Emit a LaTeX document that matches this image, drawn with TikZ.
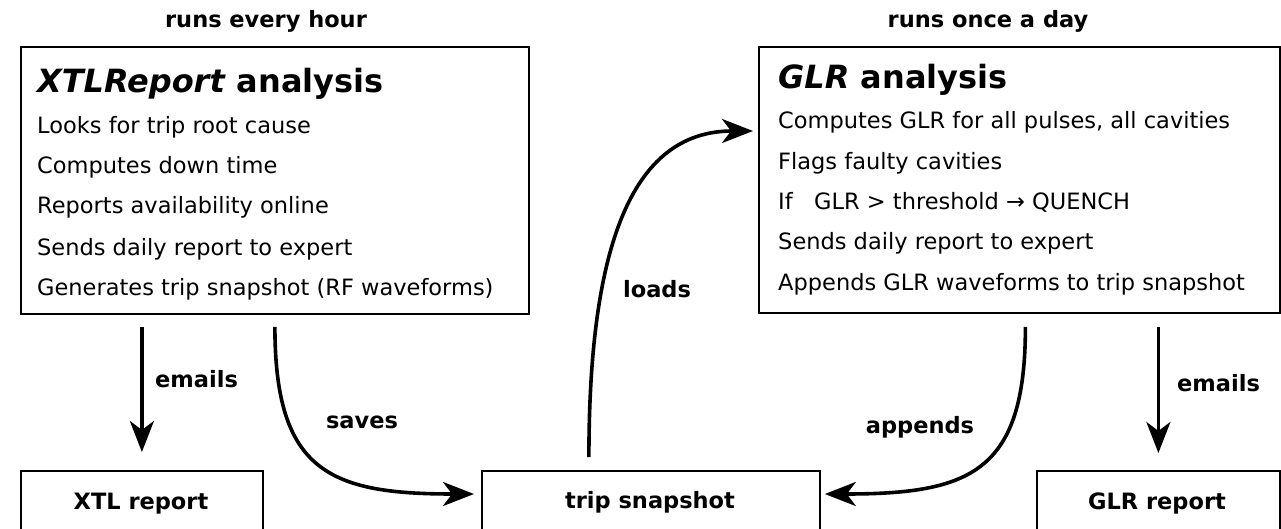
\documentclass[tikz,border=0pt]{standalone}
\usepackage{fontspec}
\setmainfont{DejaVu Sans}
\usetikzlibrary{arrows.meta}
\newcommand{\bodyfont}{\fontsize{22.5}{27}\selectfont}
\newcommand{\titlefont}{\fontsize{32}{38}\selectfont\bfseries}
\newcommand{\lblfont}{\fontsize{22.5}{27}\selectfont\bfseries}
\tikzset{
  boxstyle/.style={draw=black, line width=1.8pt, inner sep=0pt, anchor=north west},
  txt/.style={inner sep=0pt, anchor=base west, font=\bodyfont},
  ttl/.style={inner sep=0pt, anchor=base west, font=\titlefont},
  lbl/.style={inner sep=0pt, anchor=base, font=\lblfont},
  arr/.style={line width=3.6pt, -{Stealth[length=31pt,width=24pt,inset=9pt]}}
}
\begin{document}
\begin{tikzpicture}[x=1pt,y=-1pt]
\useasboundingbox (0,0) rectangle (1281,529);
% main boxes
\node[boxstyle, minimum width=508pt, minimum height=267pt] (xtl) at (20,46) {};
\node[boxstyle, minimum width=521pt, minimum height=266pt] (glr) at (758,46) {};
% bottom boxes
\node[boxstyle, minimum width=242pt, minimum height=100pt] (xtlrep) at (20,470) {};
\node[boxstyle, minimum width=338pt, minimum height=100pt] (snap) at (481,470) {};
\node[boxstyle, minimum width=243pt, minimum height=100pt] (glrrep) at (1036,470) {};
% headers
\node[lbl] (hdr1) at (266,28) {runs every hour};
\node[lbl] (hdr2) at (988,28) {runs once a day};
% left box text
\node[ttl] (t1) at (37,93) {\textit{XTLReport} analysis};
\node[txt] (l1) at (37,134) {Looks for trip root cause};
\node[txt] (l2) at (37,174) {Computes down time};
\node[txt] (l3) at (37,214) {Reports availability online};
\node[txt] (l4) at (37,255) {Sends daily report to expert};
\node[txt] (l5) at (37,295) {Generates trip snapshot (RF waveforms)};
% right box text
\node[ttl] (t2) at (778,89) {\textit{GLR} analysis};
\node[txt] (r1) at (778,129) {Computes GLR for all pulses, all cavities};
\node[txt] (r2) at (778,170) {Flags faulty cavities};
\node[txt] (r3) at (778,210) {If\ \ \ GLR > threshold → QUENCH};
\node[txt] (r4) at (778,250) {Sends daily report to expert};
\node[txt] (r5) at (778,290) {Appends GLR waveforms to trip snapshot};
% bottom texts
\node[lbl] (b1) at (141,509) {XTL report};
\node[lbl] (b2) at (650,508) {trip snapshot};
\node[lbl] (b3) at (1157,509) {GLR report};
% connectors
\draw[arr] ([yshift=-12pt]xtl.south -| xtlrep.north) -- ([yshift=18pt]xtlrep.north);
\draw[arr] ([yshift=-13pt]glr.south -| glrrep.north) -- ([yshift=17pt]glrrep.north);
\draw[arr] ([yshift=-12pt]xtl.south) .. controls +(0,145) and +(-144,0) .. ([shift={(-7pt,-24pt)}]snap.north west);
\draw[arr] ([shift={(-62pt,13pt)}]snap.north) .. controls +(0,-207) and +(-123,0) .. ([shift={(-5pt,-85pt)}]glr.north west);
\draw[arr] ([shift={(6pt,-13pt)}]glr.south) .. controls +(0,145) and +(146,0) .. ([shift={(4pt,-24pt)}]snap.north east);
% connector labels
\node[lbl, anchor=base west] (em1) at (155,387) {emails};
\node[lbl, anchor=base west] (em2) at (1177,391) {emails};
\node[lbl] (sv) at (362,428) {saves};
\node[lbl] (ld) at (657,297) {loads};
\node[lbl] (ap) at (920,433) {appends};
\end{tikzpicture}
\end{document}
